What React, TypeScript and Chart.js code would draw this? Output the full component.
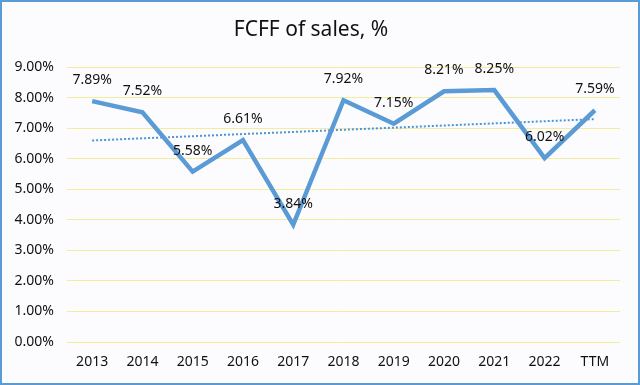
import React, { useEffect, useRef } from "react";
import { Chart, registerables } from "chart.js";

Chart.register(...registerables);

const categories = ["2013", "2014", "2015", "2016", "2017", "2018", "2019", "2020", "2021", "2022", "TTM"];
const fcffValues = [7.89, 7.52, 5.58, 6.61, 3.84, 7.92, 7.15, 8.21, 8.25, 6.02, 7.59];
const trendValues = [6.6, null, null, null, null, null, null, null, null, null, 7.3];
const yTicks = [0, 1, 2, 3, 4, 5, 6, 7, 8, 9];

const FONT = "'Noto Sans', 'Open Sans', sans-serif";

const labelPlugin = {
  id: "pointLabels",
  afterDatasetsDraw(chart: any) {
    const ctx = chart.ctx;
    const meta = chart.getDatasetMeta(0);
    ctx.save();
    ctx.font = `14px ${FONT}`;
    ctx.fillStyle = "#111";
    ctx.textAlign = "center";
    ctx.textBaseline = "middle";
    meta.data.forEach((pt: any, i: number) => {
      ctx.fillText(fcffValues[i].toFixed(2) + "%", pt.x, pt.y - 21);
    });
    ctx.restore();
  },
};

export default function App() {
  const ref = useRef<HTMLCanvasElement>(null);
  useEffect(() => {
    document.body.style.margin = "0";
    const chart = new Chart(ref.current!, {
      type: "line",
      data: {
        labels: categories,
        datasets: [
          {
            data: fcffValues,
            borderColor: "#5b9bd5",
            borderWidth: 4.5,
            pointRadius: 0,
            tension: 0,
            order: 1,
          },
          {
            data: trendValues as any,
            borderColor: "#4a95d6",
            borderWidth: 2,
            borderDash: [2, 2],
            pointRadius: 0,
            spanGaps: true,
            order: 2,
          },
        ],
      },
      options: {
        animation: false,
        responsive: false,
        layout: { padding: { left: 0, right: 18, top: 0, bottom: 0 } },
        plugins: {
          legend: { display: false },
          tooltip: { enabled: false },
          title: {
            display: true,
            text: "FCFF of sales, %",
            color: "#111",
            font: { family: FONT, size: 21, weight: "normal" },
            padding: { top: 15, bottom: 25 },
          },
        },
        scales: {
          x: {
            offset: true,
            grid: { display: false, drawTicks: false },
            border: { display: false },
            ticks: { color: "#111", font: { family: FONT, size: 14 }, padding: 12, maxRotation: 0 },
            afterFit: (s: any) => {
              s.height = 41;
            },
          },
          y: {
            min: 0,
            max: 9,
            afterBuildTicks: (s: any) => {
              s.ticks = yTicks.map((v) => ({ value: v }));
            },
            grid: { color: "#f2ec9c", lineWidth: 1, drawTicks: false },
            border: { display: false },
            ticks: {
              color: "#111",
              font: { family: FONT, size: 14 },
              padding: 13,
              callback: (v: any) => Number(v).toFixed(2) + "%",
            },
            afterFit: (s: any) => {
              s.width = 65;
            },
          },
        },
      },
      plugins: [labelPlugin],
    });
    return () => chart.destroy();
  }, []);
  return (
    <div
      style={{
        width: 640,
        height: 385,
        boxSizing: "border-box",
        border: "2px solid #5b9bd5",
        background: "#fcfcff",
      }}
    >
      <canvas ref={ref} width={636} height={381} style={{ display: "block" }} />
    </div>
  );
}
